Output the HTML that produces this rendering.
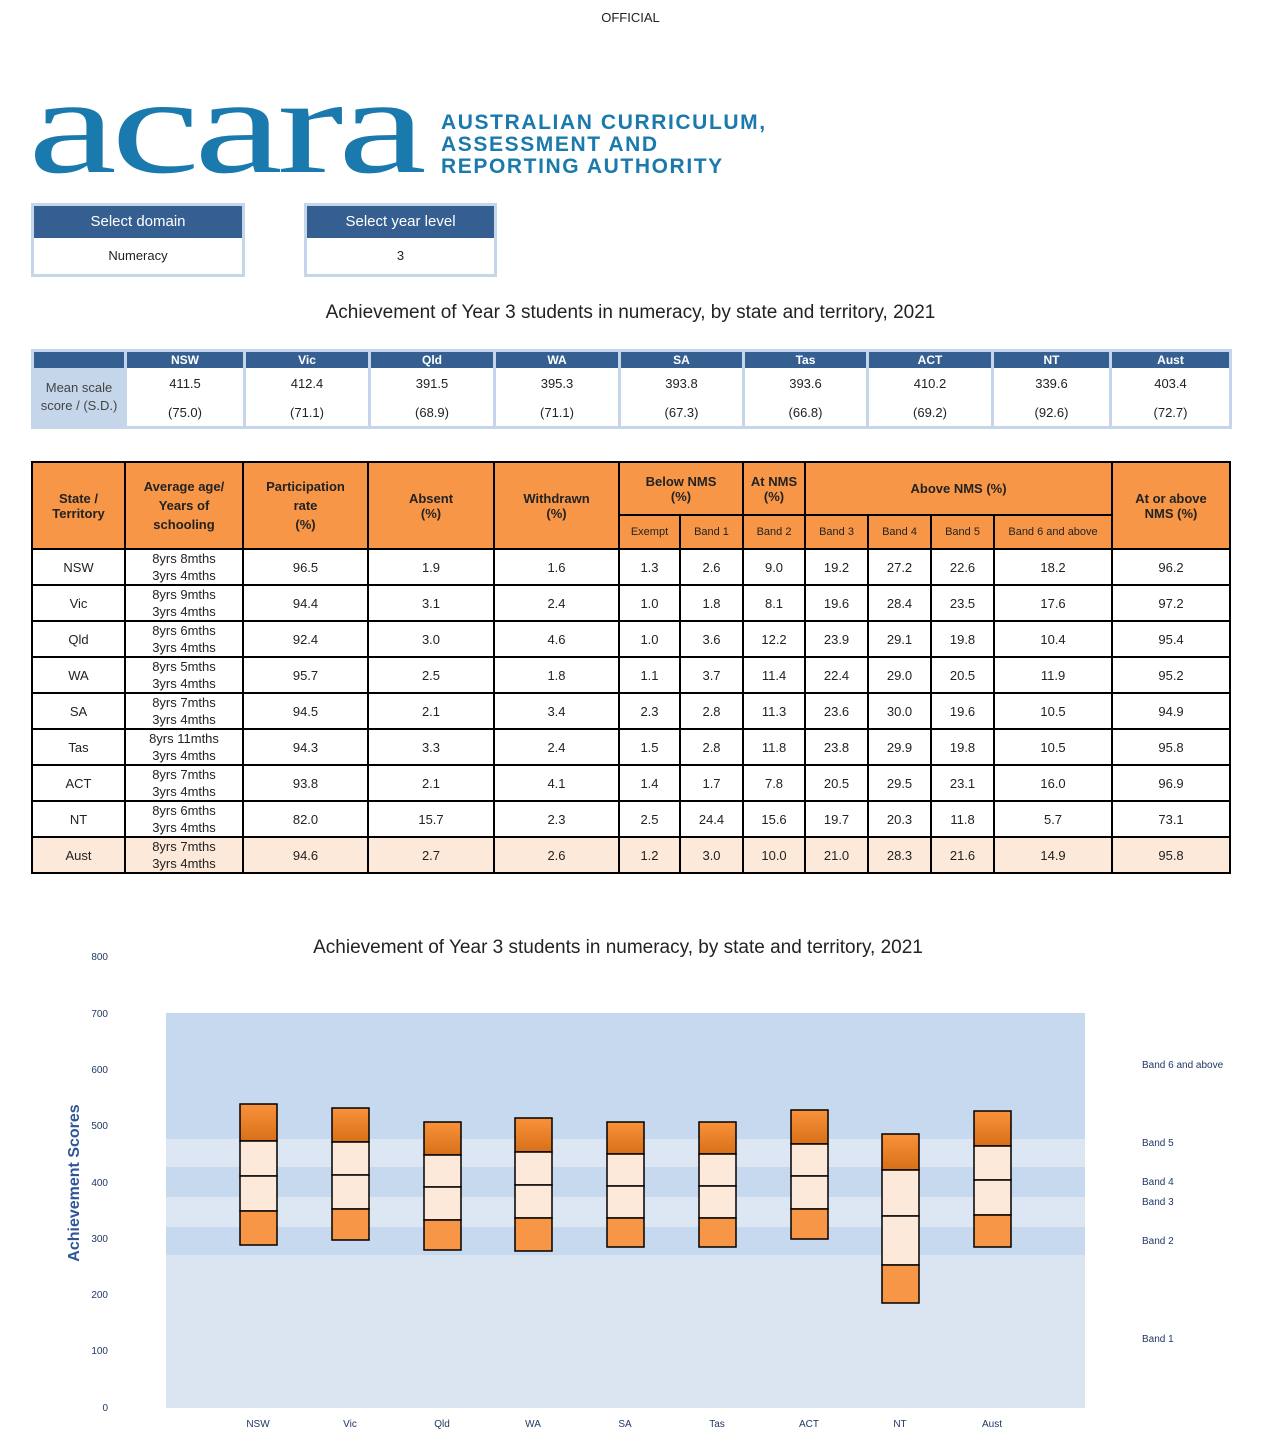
<!DOCTYPE html>
<html><head><meta charset="utf-8"><style>
body{margin:0;width:1261px;height:1455px;position:relative;background:#fff;font-family:"Liberation Sans",sans-serif;color:#222;overflow:hidden}
.a{position:absolute}
.sel{position:absolute;border:3px solid #c5d5ea;background:#fff}
.sel .h{background:#365f91;color:#fff;font-size:15px;text-align:center;height:32px;line-height:32px}
.sel .v{font-size:13px;text-align:center;height:36px;line-height:36px}
table{border-collapse:collapse;table-layout:fixed;position:absolute}
#mt td{text-align:center;font-size:13px;border-left:3px solid #c5d5ea;padding:0}
#mt tr.hd td{background:#365f91;color:#fff;font-weight:bold;height:16px;font-size:12px;line-height:16px}
#tt td{border:2px solid #000;text-align:center;font-size:13px;padding:0;height:32px}
#tt tr.h td{background:#f79646;font-weight:bold;font-size:13px}
#tt tr.h td.s{font-size:11px;font-weight:normal}
#tt td.ag{font-size:13px;line-height:17px}
#tt tr.au td{background:#fde9d9}
</style></head><body>
<div class="a" style="left:0;width:1261px;top:10px;text-align:center;font-size:13px">OFFICIAL</div>
<div class="a" style="left:28px;top:56px;font-family:'Liberation Serif',serif;font-size:138px;color:#1a79ad;letter-spacing:-4px;line-height:140px;transform:scaleX(1.45);transform-origin:0 0">acara</div>
<div class="a" style="left:441px;top:112px;font-size:21px;font-weight:bold;color:#1a79ad;line-height:22px;letter-spacing:1.6px">AUSTRALIAN CURRICULUM,<br>ASSESSMENT AND<br>REPORTING AUTHORITY</div>
<div class="sel" style="left:31px;top:203px;width:208px"><div class="h">Select domain</div><div class="v">Numeracy</div></div>
<div class="sel" style="left:304px;top:203px;width:187px"><div class="h">Select year level</div><div class="v">3</div></div>
<div class="a" style="left:0;width:1261px;top:302px;text-align:center;font-size:19px">Achievement of Year 3 students in numeracy, by state and territory, 2021</div>
<table id="mt" style="left:31px;top:349px;width:1200px;border:3px solid #c5d5ea">
<colgroup><col style="width:93px"><col style="width:119px"><col style="width:125px"><col style="width:125px"><col style="width:125px"><col style="width:124px"><col style="width:124px"><col style="width:125px"><col style="width:118px"><col style="width:120px"></colgroup>
<tr class="hd"><td></td><td>NSW</td><td>Vic</td><td>Qld</td><td>WA</td><td>SA</td><td>Tas</td><td>ACT</td><td>NT</td><td>Aust</td></tr>
<tr><td rowspan="2" style="background:#c5d5ea;color:#444;line-height:18px">Mean scale score / (S.D.)</td><td style="height:30px">411.5</td><td>412.4</td><td>391.5</td><td>395.3</td><td>393.8</td><td>393.6</td><td>410.2</td><td>339.6</td><td>403.4</td></tr>
<tr><td style="height:28px">(75.0)</td><td>(71.1)</td><td>(68.9)</td><td>(71.1)</td><td>(67.3)</td><td>(66.8)</td><td>(69.2)</td><td>(92.6)</td><td>(72.7)</td></tr>
</table>
<table id="tt" style="left:31px;top:461px;width:1200px">
<colgroup><col style="width:93px"><col style="width:118px"><col style="width:125px"><col style="width:126px"><col style="width:125px"><col style="width:61px"><col style="width:63px"><col style="width:62px"><col style="width:63px"><col style="width:63px"><col style="width:63px"><col style="width:118px"><col style="width:118px"></colgroup>
<tr class="h"><td rowspan="2">State /<br>Territory</td><td rowspan="2" style="line-height:19px">Average age/<br>Years of<br>schooling</td><td rowspan="2" style="line-height:19px">Participation<br>rate<br>(%)</td><td rowspan="2">Absent<br>(%)</td><td rowspan="2">Withdrawn<br>(%)</td><td colspan="2" style="height:51px">Below NMS<br>(%)</td><td style="height:51px">At NMS<br>(%)</td><td colspan="4">Above NMS (%)</td><td rowspan="2">At or above<br>NMS (%)</td></tr>
<tr class="h"><td class="s">Exempt</td><td class="s">Band 1</td><td class="s">Band 2</td><td class="s">Band 3</td><td class="s">Band 4</td><td class="s">Band 5</td><td class="s">Band 6 and above</td></tr>
<tr><td>NSW</td><td class="ag">8yrs 8mths<br>3yrs 4mths</td><td>96.5</td><td>1.9</td><td>1.6</td><td>1.3</td><td>2.6</td><td>9.0</td><td>19.2</td><td>27.2</td><td>22.6</td><td>18.2</td><td>96.2</td></tr>
<tr><td>Vic</td><td class="ag">8yrs 9mths<br>3yrs 4mths</td><td>94.4</td><td>3.1</td><td>2.4</td><td>1.0</td><td>1.8</td><td>8.1</td><td>19.6</td><td>28.4</td><td>23.5</td><td>17.6</td><td>97.2</td></tr>
<tr><td>Qld</td><td class="ag">8yrs 6mths<br>3yrs 4mths</td><td>92.4</td><td>3.0</td><td>4.6</td><td>1.0</td><td>3.6</td><td>12.2</td><td>23.9</td><td>29.1</td><td>19.8</td><td>10.4</td><td>95.4</td></tr>
<tr><td>WA</td><td class="ag">8yrs 5mths<br>3yrs 4mths</td><td>95.7</td><td>2.5</td><td>1.8</td><td>1.1</td><td>3.7</td><td>11.4</td><td>22.4</td><td>29.0</td><td>20.5</td><td>11.9</td><td>95.2</td></tr>
<tr><td>SA</td><td class="ag">8yrs 7mths<br>3yrs 4mths</td><td>94.5</td><td>2.1</td><td>3.4</td><td>2.3</td><td>2.8</td><td>11.3</td><td>23.6</td><td>30.0</td><td>19.6</td><td>10.5</td><td>94.9</td></tr>
<tr><td>Tas</td><td class="ag">8yrs 11mths<br>3yrs 4mths</td><td>94.3</td><td>3.3</td><td>2.4</td><td>1.5</td><td>2.8</td><td>11.8</td><td>23.8</td><td>29.9</td><td>19.8</td><td>10.5</td><td>95.8</td></tr>
<tr><td>ACT</td><td class="ag">8yrs 7mths<br>3yrs 4mths</td><td>93.8</td><td>2.1</td><td>4.1</td><td>1.4</td><td>1.7</td><td>7.8</td><td>20.5</td><td>29.5</td><td>23.1</td><td>16.0</td><td>96.9</td></tr>
<tr><td>NT</td><td class="ag">8yrs 6mths<br>3yrs 4mths</td><td>82.0</td><td>15.7</td><td>2.3</td><td>2.5</td><td>24.4</td><td>15.6</td><td>19.7</td><td>20.3</td><td>11.8</td><td>5.7</td><td>73.1</td></tr>
<tr class="au"><td>Aust</td><td class="ag">8yrs 7mths<br>3yrs 4mths</td><td>94.6</td><td>2.7</td><td>2.6</td><td>1.2</td><td>3.0</td><td>10.0</td><td>21.0</td><td>28.3</td><td>21.6</td><td>14.9</td><td>95.8</td></tr>
</table>
<div class="a" style="left:0;width:1236px;top:937px;text-align:center;font-size:19px">Achievement of Year 3 students in numeracy, by state and territory, 2021</div>
<svg class="a" style="left:0;top:0" width="1261" height="1455" font-family="Liberation Sans, sans-serif">
<defs><linearGradient id="g" x1="0" y1="0" x2="0" y2="1"><stop offset="0" stop-color="#f9923a"/><stop offset="1" stop-color="#d8701a"/></linearGradient></defs>
<rect x="166" y="1013" width="919" height="126" fill="#c6d9ef"/>
<rect x="166" y="1139" width="919" height="28" fill="#dde7f3"/>
<rect x="166" y="1167" width="919" height="30" fill="#c6d9ef"/>
<rect x="166" y="1197" width="919" height="30" fill="#dde7f3"/>
<rect x="166" y="1227" width="919" height="28" fill="#c6d9ef"/>
<rect x="166" y="1255" width="919" height="153" fill="#dbe5f2"/>
<g font-size="10" fill="#1f3864" text-anchor="end">
<text x="108" y="960">800</text><text x="108" y="1017">700</text><text x="108" y="1073">600</text><text x="108" y="1129">500</text><text x="108" y="1186">400</text><text x="108" y="1242">300</text><text x="108" y="1298">200</text><text x="108" y="1354">100</text><text x="108" y="1411">0</text></g>
<text transform="translate(79,1183) rotate(-90)" text-anchor="middle" font-size="16" font-weight="bold" fill="#2f5597">Achievement Scores</text>
<g font-size="10" fill="#1f3864">
<text x="1142" y="1068">Band 6 and above</text><text x="1142" y="1146">Band 5</text><text x="1142" y="1185">Band 4</text><text x="1142" y="1205">Band 3</text><text x="1142" y="1244">Band 2</text><text x="1142" y="1342">Band 1</text></g>
<g font-size="10" fill="#1f3864" text-anchor="middle">
<text x="258" y="1427">NSW</text><text x="350" y="1427">Vic</text><text x="442" y="1427">Qld</text><text x="533" y="1427">WA</text><text x="625" y="1427">SA</text><text x="717" y="1427">Tas</text><text x="809" y="1427">ACT</text><text x="900" y="1427">NT</text><text x="992" y="1427">Aust</text></g>
<g stroke="#000" stroke-width="1.5">
<g transform="translate(240,0)"><rect y="1104" width="37" height="37" fill="url(#g)"/><rect y="1141" width="37" height="35" fill="#fde9d9"/><rect y="1176" width="37" height="35" fill="#fde9d9"/><rect y="1211" width="37" height="34" fill="#f79646"/></g>
<g transform="translate(332,0)"><rect y="1108" width="37" height="34" fill="url(#g)"/><rect y="1142" width="37" height="33" fill="#fde9d9"/><rect y="1175" width="37" height="34" fill="#fde9d9"/><rect y="1209" width="37" height="31" fill="#f79646"/></g>
<g transform="translate(424,0)"><rect y="1122" width="37" height="33" fill="url(#g)"/><rect y="1155" width="37" height="32" fill="#fde9d9"/><rect y="1187" width="37" height="33" fill="#fde9d9"/><rect y="1220" width="37" height="30" fill="#f79646"/></g>
<g transform="translate(515,0)"><rect y="1118" width="37" height="34" fill="url(#g)"/><rect y="1152" width="37" height="33" fill="#fde9d9"/><rect y="1185" width="37" height="33" fill="#fde9d9"/><rect y="1218" width="37" height="33" fill="#f79646"/></g>
<g transform="translate(607,0)"><rect y="1122" width="37" height="32" fill="url(#g)"/><rect y="1154" width="37" height="32" fill="#fde9d9"/><rect y="1186" width="37" height="32" fill="#fde9d9"/><rect y="1218" width="37" height="29" fill="#f79646"/></g>
<g transform="translate(699,0)"><rect y="1122" width="37" height="32" fill="url(#g)"/><rect y="1154" width="37" height="32" fill="#fde9d9"/><rect y="1186" width="37" height="32" fill="#fde9d9"/><rect y="1218" width="37" height="29" fill="#f79646"/></g>
<g transform="translate(791,0)"><rect y="1110" width="37" height="34" fill="url(#g)"/><rect y="1144" width="37" height="32" fill="#fde9d9"/><rect y="1176" width="37" height="33" fill="#fde9d9"/><rect y="1209" width="37" height="30" fill="#f79646"/></g>
<g transform="translate(882,0)"><rect y="1134" width="37" height="36" fill="url(#g)"/><rect y="1170" width="37" height="46" fill="#fde9d9"/><rect y="1216" width="37" height="49" fill="#fde9d9"/><rect y="1265" width="37" height="38" fill="#f79646"/></g>
<g transform="translate(974,0)"><rect y="1111" width="37" height="35" fill="url(#g)"/><rect y="1146" width="37" height="34" fill="#fde9d9"/><rect y="1180" width="37" height="35" fill="#fde9d9"/><rect y="1215" width="37" height="32" fill="#f79646"/></g>
</g>
</svg>
</body></html>
